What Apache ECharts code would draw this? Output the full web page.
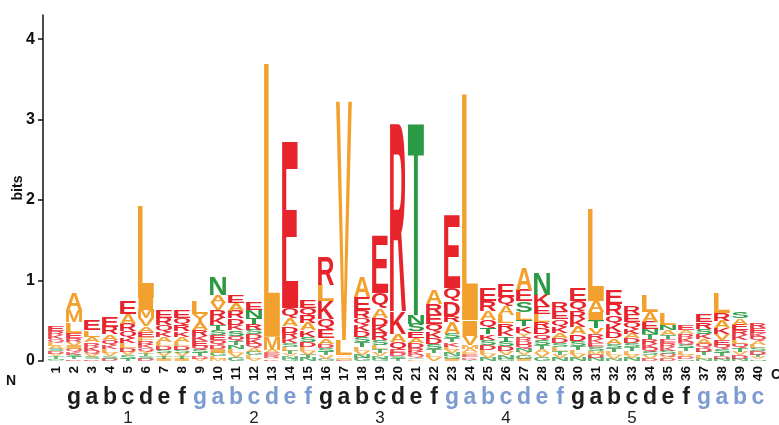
<!DOCTYPE html>
<html>
<head>
<meta charset="utf-8">
<title>Sequence logo</title>
<script src="https://cdn.jsdelivr.net/npm/echarts@6/dist/echarts.min.js"></script>
<style>
  html, body { margin: 0; background: #fff; }
  #chart { width: 779px; height: 425px; }
</style>
</head>
<body>
<div id="chart"></div>
<script>
// positions along the sequence
const positions = ['1','2','3','4','5','6','7','8','9','10','11','12','13','14','15','16','17','18','19','20',
  '21','22','23','24','25','26','27','28','29','30','31','32','33','34','35','36','37','38','39','40']

// heptad register under each position (position 1 has none)
const heptadLetters = ['', 'g','a','b','c','d','e','f', 'g','a','b','c','d','e','f', 'g','a','b','c','d','e','f',
  'g','a','b','c','d','e','f', 'g','a','b','c','d','e','f', 'g','a','b','c']
// 1 = heptad drawn in blue
const heptadBlue = [0, 0,0,0,0,0,0,0, 1,1,1,1,1,1,1, 0,0,0,0,0,0,0, 1,1,1,1,1,1,1, 0,0,0,0,0,0,0, 1,1,1,1]
const heptadNumbers = ['', '', '', '', '1', '', '', '', '', '', '', '2', '', '', '', '', '', '', '3', '', '',
  '', '', '', '', '4', '', '', '', '', '', '', '5', '', '', '', '', '', '', '']

// letter stacks, top to bottom, height in bits
const stacks = [
  [['E',.06],['R',.05],['K',.05],['Q',.04],['L',.04],['A',.04],['S',.03],['D',.03],['V',.03],['T',.03],['N',.02],['G',.01]],
  [['A',.21],['M',.15],['L',.13],['E',.06],['R',.05],['V',.05],['I',.04],['Q',.04],['K',.03],['S',.03],['T',.03],['D',.02]],
  [['E',.12],['L',.08],['A',.07],['R',.05],['K',.05],['Q',.04],['V',.04],['S',.03],['D',.02]],
  [['E',.13],['R',.09],['A',.07],['Q',.06],['K',.05],['L',.05],['V',.04],['S',.03],['D',.03]],
  [['E',.15],['A',.12],['R',.09],['Q',.08],['K',.07],['L',.06],['D',.05],['V',.04],['S',.04],['T',.03]],
  [['L',1.15],['I',.14],['M',.11],['V',.10],['A',.07],['E',.06],['F',.05],['R',.05],['K',.04],['Q',.04],['Y',.03],['T',.03],['S',.03],['D',.03]],
  [['E',.10],['R',.09],['Q',.08],['K',.07],['A',.06],['L',.05],['D',.05],['S',.04],['V',.04],['T',.03],['I',.03]],
  [['E',.09],['Q',.08],['R',.08],['K',.07],['A',.06],['L',.05],['D',.05],['S',.04],['V',.04],['T',.03],['I',.03]],
  [['L',.15],['Y',.10],['A',.10],['R',.07],['K',.06],['E',.06],['Q',.05],['S',.04],['T',.04],['D',.03],['V',.03]],
  [['N',.22],['A',.10],['V',.09],['R',.09],['K',.09],['T',.07],['S',.06],['E',.06],['Q',.06],['D',.05],['I',.05],['G',.04],['L',.03],['M',.03]],
  [['E',.10],['A',.10],['R',.09],['D',.08],['K',.07],['S',.07],['Q',.06],['T',.05],['N',.05],['L',.05],['V',.05],['G',.05]],
  [['E',.10],['N',.09],['T',.08],['R',.07],['S',.06],['D',.06],['K',.06],['Q',.05],['A',.05],['G',.04],['L',.04],['V',.03]],
  [['L',3.40],['M',.16],['A',.04],['E',.03],['R',.03],['V',.02],['K',.02]],
  [['E',2.07],['Q',.13],['A',.10],['D',.08],['R',.07],['K',.06],['S',.05],['L',.04],['T',.04],['V',.03],['N',.03],['G',.03]],
  [['E',.10],['Q',.10],['R',.09],['A',.09],['K',.08],['S',.06],['D',.06],['L',.05],['V',.05],['T',.04],['N',.04]],
  [['R',.35],['L',.20],['K',.22],['Q',.13],['E',.11],['A',.07],['D',.05],['S',.05],['T',.04],['V',.04],['G',.03]],
  [['V',2.97],['L',.19],['A',.02],['I',.02],['M',.02],['E',.01]],
  [['A',.25],['E',.16],['R',.09],['Q',.09],['K',.08],['D',.07],['S',.06],['T',.06],['L',.05],['V',.05],['N',.04],['G',.04]],
  [['E',.72],['Q',.19],['A',.11],['D',.10],['K',.09],['R',.09],['S',.06],['L',.05],['T',.05],['V',.04],['N',.03],['G',.03]],
  [['R',2.33],['K',.28],['A',.10],['Q',.10],['E',.04],['D',.04],['S',.03],['T',.03]],
  [['T',2.41],['N',.11],['S',.09],['E',.08],['A',.07],['D',.06],['R',.05],['K',.04],['Q',.03],['G',.02],['L',.02]],
  [['A',.17],['R',.13],['E',.12],['Q',.10],['K',.08],['D',.07],['S',.06],['T',.05],['L',.05],['V',.05]],
  [['E',.90],['Q',.17],['D',.18],['R',.08],['A',.14],['S',.06],['T',.05],['K',.05],['L',.04],['V',.04],['N',.04],['G',.03],['I',.03]],
  [['L',2.81],['I',.20],['V',.11],['M',.05],['A',.04],['F',.03],['E',.03],['K',.02],['R',.02],['T',.01]],
  [['E',.16],['R',.12],['A',.11],['Q',.10],['T',.08],['K',.07],['S',.06],['D',.06],['L',.05],['V',.05],['N',.04]],
  [['E',.16],['Q',.12],['A',.11],['L',.10],['R',.08],['K',.08],['T',.07],['S',.06],['D',.06],['V',.05],['N',.04],['G',.03]],
  [['A',.28],['E',.14],['S',.13],['L',.10],['T',.08],['K',.08],['Y',.05],['R',.05],['D',.05],['Q',.05],['N',.04],['V',.04],['G',.04],['I',.03]],
  [['N',.27],['K',.14],['E',.10],['L',.09],['R',.08],['D',.08],['Q',.07],['S',.06],['T',.05],['A',.05],['V',.05],['G',.05]],
  [['R',.11],['E',.10],['Q',.09],['K',.08],['A',.07],['D',.06],['S',.05],['L',.05],['T',.04],['V',.04],['N',.04]],
  [['E',.16],['Q',.12],['R',.10],['K',.10],['A',.09],['D',.08],['S',.06],['T',.05],['L',.05],['V',.05],['N',.04]],
  [['L',1.14],['A',.14],['I',.10],['T',.10],['V',.08],['R',.06],['K',.05],['E',.05],['S',.05],['M',.04],['D',.04],['N',.04]],
  [['E',.17],['R',.14],['Q',.11],['K',.10],['D',.08],['A',.07],['S',.05],['T',.05],['L',.04],['V',.04],['N',.03]],
  [['R',.09],['E',.09],['Q',.08],['K',.07],['A',.06],['D',.06],['S',.05],['T',.05],['L',.04],['V',.04],['N',.04]],
  [['L',.21],['A',.12],['E',.09],['N',.07],['T',.06],['R',.06],['K',.05],['Q',.05],['S',.04],['V',.04],['D',.03]],
  [['L',.14],['N',.07],['A',.06],['T',.05],['E',.05],['R',.05],['K',.04],['S',.04],['Q',.03],['V',.03],['D',.03]],
  [['E',.06],['A',.05],['R',.05],['K',.05],['Q',.04],['S',.04],['T',.04],['L',.04],['V',.03],['D',.03],['N',.02]],
  [['E',.09],['R',.08],['S',.07],['K',.06],['A',.06],['Q',.05],['D',.05],['T',.04],['L',.04],['N',.03]],
  [['L',.25],['R',.10],['A',.09],['K',.08],['V',.07],['E',.06],['Q',.05],['S',.05],['T',.04],['D',.03],['N',.03]],
  [['S',.08],['A',.08],['E',.07],['R',.06],['K',.06],['L',.05],['Q',.05],['T',.05],['V',.04],['D',.04],['N',.03]],
  [['R',.06],['E',.06],['K',.05],['Q',.05],['A',.05],['L',.04],['S',.04],['D',.04],['T',.03],['V',.03],['N',.02]],
]

const RED = '#e7232b'
const ORANGE = '#f2a12e'
const GREEN = '#2c9a45'
const BLUE = '#7b9bd1'
const letterColors = {
  E: RED, D: RED, R: RED, K: RED, Q: RED, H: RED,
  A: ORANGE, L: ORANGE, M: ORANGE, V: ORANGE, I: ORANGE, F: ORANGE, W: ORANGE, Y: ORANGE, P: ORANGE, C: ORANGE,
  N: GREEN, T: GREEN, S: GREEN, G: GREEN,
}

const LOGO_FONT = 'bold 100px "Liberation Sans", Arial, sans-serif'

// glyph bounds relative to a left / middle anchor, same as zrender draws text
const measureCtx = document.createElement('canvas').getContext('2d')
measureCtx.font = LOGO_FONT
measureCtx.textBaseline = 'middle'
measureCtx.textAlign = 'left'
const glyphCache = {}
function glyphBox(ch) {
  if (!glyphCache[ch]) {
    const m = measureCtx.measureText(ch)
    glyphCache[ch] = {
      l: m.actualBoundingBoxLeft,
      r: m.actualBoundingBoxRight,
      a: m.actualBoundingBoxAscent,
      d: m.actualBoundingBoxDescent,
    }
  }
  return glyphCache[ch]
}

// cumulate each stack from the bottom up
const logoData = []
stacks.forEach((stack, i) => {
  let base = 0
  stack.slice().reverse().forEach(([letter, bits]) => {
    logoData.push({ value: [i, base, base + bits], letter })
    base += bits
  })
})

function renderLetter(params, api) {
  const item = logoData[params.dataIndex]
  const bottom = api.coord([api.value(0), api.value(1)])
  const top = api.coord([api.value(0), api.value(2)])
  const width = api.size([1, 0])[0] * 0.9
  const height = bottom[1] - top[1]
  if (height < 0.4) return
  const box = glyphBox(item.letter)
  const sx = width / (box.l + box.r)
  const sy = height / (box.a + box.d)
  const left = bottom[0] - width / 2
  return {
    type: 'text',
    x: left + sx * box.l,
    y: top[1] + sy * box.a,
    scaleX: sx,
    scaleY: sy,
    style: {
      text: item.letter,
      x: 0,
      y: 0,
      font: LOGO_FONT,
      fill: letterColors[item.letter],
      // tiny letters come out pale in the print
      opacity: Math.min(1, 0.5 + height / 12),
      align: 'left',
      verticalAlign: 'middle',
      textAlign: 'left',
      textVerticalAlign: 'middle',
    },
  }
}

const chart = echarts.init(document.getElementById('chart'))

const option = {
  animation: false,
  textStyle: { fontFamily: '"Liberation Sans", Arial, sans-serif' },
  grid: { left: 47, right: 12, top: 15, bottom: 64, outerBoundsMode: 'none', containLabel: false },
  xAxis: [
    {
      type: 'category',
      data: positions,
      axisLine: { show: false },
      axisTick: { show: false },
      axisLabel: { interval: 0, rotate: 90, margin: 5, fontSize: 13.5, fontWeight: 'bold', color: '#111' },
    },
    {
      type: 'category',
      data: heptadLetters,
      position: 'bottom',
      offset: 21,
      axisLine: { show: false },
      axisTick: { show: false },
      axisLabel: {
        interval: 0,
        margin: 4,
        formatter: (v, i) => (v ? `{${heptadBlue[i] ? 'blue' : 'black'}|${v}}` : ''),
        rich: {
          black: { fontSize: 23, fontWeight: 'bold', color: '#1b1b1b' },
          blue: { fontSize: 23, fontWeight: 'bold', color: BLUE },
        },
      },
    },
    {
      type: 'category',
      data: heptadNumbers,
      position: 'bottom',
      offset: 45,
      axisLine: { show: false },
      axisTick: { show: false },
      axisLabel: { interval: 0, margin: 4, fontSize: 17, color: '#222' },
    },
  ],
  yAxis: {
    type: 'value',
    min: 0,
    max: 4.3,
    interval: 1,
    offset: 4,
    name: 'bits',
    nameLocation: 'middle',
    nameGap: 18,
    nameMoveOverlap: false,
    nameTextStyle: { fontSize: 14, fontWeight: 'bold', color: '#111' },
    splitLine: { show: false },
    axisLine: { show: true, lineStyle: { color: '#111', width: 1.5 } },
    axisTick: { show: true, length: 5, lineStyle: { color: '#111', width: 1.5 }, customValues: [0, 1, 2, 3, 4] },
    axisLabel: { fontSize: 16, fontWeight: 'bold', color: '#111', margin: 8, customValues: [0, 1, 2, 3, 4] },
  },
  graphic: [
    { type: 'text', left: 6, top: 374, style: { text: 'N', font: 'bold 14px "Liberation Sans", Arial', fill: '#111' } },
    { type: 'text', left: 771, top: 368, style: { text: 'C', font: 'bold 14px "Liberation Sans", Arial', fill: '#111' } },
  ],
  series: [
    {
      type: 'custom',
      silent: true,
      clip: false,
      xAxisIndex: 0,
      yAxisIndex: 0,
      encode: { x: 0, y: [1, 2] },
      renderItem: renderLetter,
      data: logoData,
    },
  ],
}

chart.setOption(option)

window.addEventListener('resize', () => chart.resize())
</script>
</body>
</html>
